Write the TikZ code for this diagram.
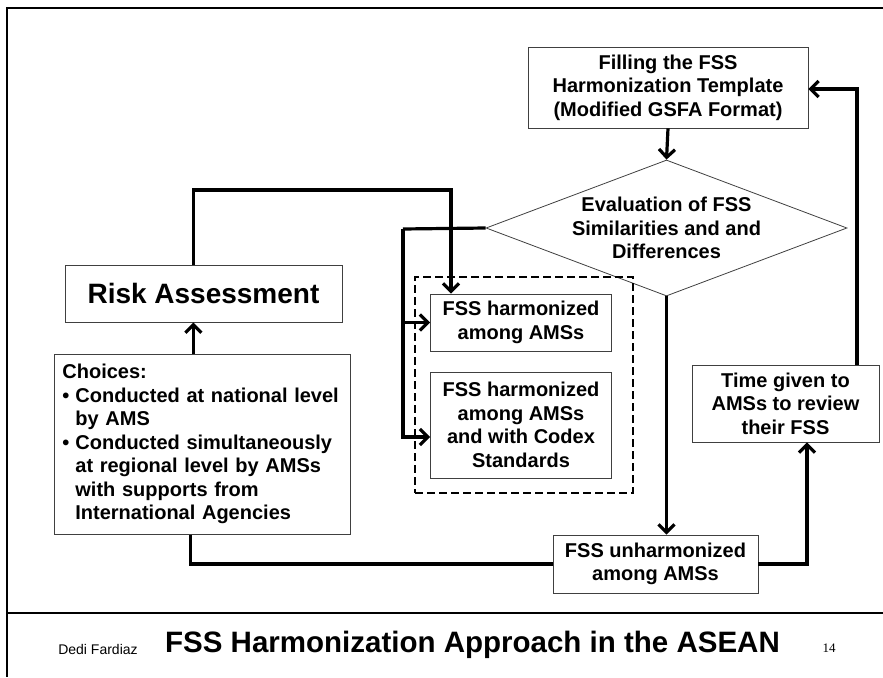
\documentclass[tikz,border=0pt]{standalone}
\usepackage{fontspec}
\setmainfont{Liberation Sans}
\newfontfamily\pagenumfont{Liberation Serif}
\usetikzlibrary{shapes.geometric, arrows.meta}

\begin{document}
\begin{tikzpicture}[x=1pt, y=-1pt,
    box/.style={draw=black!75, line width=0.8pt, align=center, inner sep=0pt,
        font=\fontsize{20}{23.5}\selectfont\bfseries},
    link/.style={line width=3.2pt, -{Straight Barb[length=8pt,width=16pt]}},
    plain/.style={line width=3.2pt},
    grouped/.style={draw, line width=2.6pt, dash pattern=on 8pt off 4pt}]
    \useasboundingbox (0,0) rectangle (883,677);
    % slide frame
    \draw[line width=1.6pt] (883,8) -- (7,8) -- (7,677);
    \draw[line width=1.6pt] (7,613) -- (883,613);

    \node[box, minimum width=280pt, minimum height=81pt] (fill) at (668,87.5)
        {Filling the FSS\\Harmonization Template\\(Modified GSFA Format)};
    \node[diamond, draw=black!75, line width=0.8pt, minimum width=361pt, minimum height=136pt,
        inner sep=0pt] (eval) at (666.5,228) {};
    \node[align=center, font=\fontsize{20}{23.5}\selectfont\bfseries] (evaltext) at (eval)
        {Evaluation of FSS\\Similarities and and\\Differences};
    \node[box, minimum width=277pt, minimum height=57pt,
        font=\fontsize{28}{30}\selectfont\bfseries] (risk) at (203.5,293.5) {Risk Assessment};
    \node[box, anchor=north west, text width=280pt, inner xsep=8pt, minimum height=180pt,
        align=left] (choices) at (54,354)
        {\begin{tabular}{@{}c@{\hspace{6pt}}l@{}}
            \multicolumn{2}{@{}l@{}}{Choices:}\\
            \textbullet & Conducted at national level\\
                        & by AMS\\
            \textbullet & Conducted simultaneously\\
                        & at regional level by AMSs\\
                        & with supports from\\
                        & International Agencies
        \end{tabular}};
    \node[grouped, minimum width=218pt, minimum height=216pt] (group) at (524,385) {};
    \node[box, minimum width=181pt, minimum height=57pt] (harm) at (521,322.5)
        {FSS harmonized\\among AMSs};
    \node[box, minimum width=181pt, minimum height=106pt] (codex) at (521,425)
        {FSS harmonized\\among AMSs\\and with Codex\\Standards};
    \node[box, minimum width=205pt, minimum height=58pt] (unharm) at (655.5,564)
        {FSS unharmonized\\among AMSs};
    \node[box, minimum width=187pt, minimum height=77pt] (time) at (785.5,403.5)
        {Time given to\\AMSs to review\\their FSS};

    % connectors
    \coordinate (toptap) at (451,190);
    \coordinate (split) at (403,229);
    \draw[link] (fill.south) -- (eval.north);
    \draw[link] (eval.south) -- (eval.south |- unharm.north);
    \draw[link] ([xshift=-10pt]risk.north) |- (toptap) -- (toptap |- harm.north);
    \draw[link] ([xshift=-9pt]choices.north) -- ([xshift=-9pt]choices.north |- risk.south);
    \draw[plain] (eval.west) -- (split);
    \draw[link] (split) |- ([yshift=-12pt]codex.west);
    \draw[link] (split |- harm.west) -- (harm.west);
    \draw[plain] ([xshift=-12pt]choices.south) |- (unharm.west);
    \draw[link] (unharm.east) -| ([xshift=21.5pt]time.south);
    \draw[link] ([xshift=71.5pt]time.north) |- ([yshift=-1.5pt]fill.east);

    % footer
    \node[anchor=base, font=\fontsize{14}{16}\selectfont] (author) at (98,654) {Dedi Fardiaz};
    \node[anchor=base, font=\fontsize{29.5}{32}\selectfont\bfseries] (title) at (472.5,652)
        {FSS Harmonization Approach in the ASEAN};
    \node[anchor=base, font=\fontsize{13}{15}\selectfont\pagenumfont] (pagenum) at (829,652) {14};
\end{tikzpicture}
\end{document}
